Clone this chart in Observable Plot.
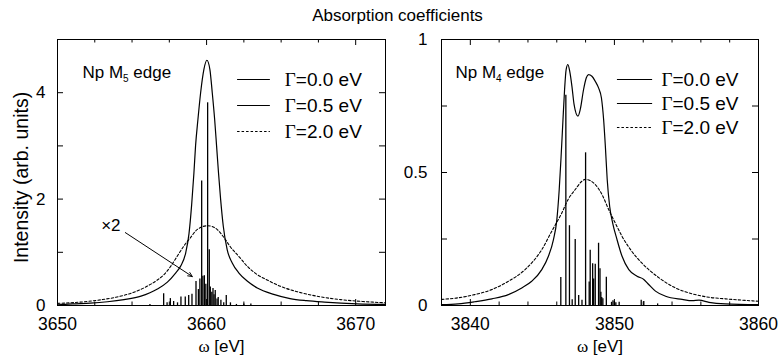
<!DOCTYPE html>
<html><head><meta charset="utf-8">
<script src="https://cdn.jsdelivr.net/npm/d3@7"></script>
<script src="https://cdn.jsdelivr.net/npm/@observablehq/plot@0.6"></script>
<style>
body{margin:0;background:#fff;}
#wrap{position:relative;width:781px;height:360px;display:flex;font-family:"Liberation Sans",Arial,sans-serif;background:#fff;}
#title{position:absolute;top:7px;left:0;width:795px;text-align:center;font-size:17px;line-height:18px;color:#000;z-index:2;}
svg{display:block;}
</style></head><body>
<div id="wrap"><div id="title">Absorption coefficients</div></div>
<script>
// ---------- Np M5 edge ----------
const m5G05E = [3650, 3651, 3652.2, 3653.35, 3654.46, 3655.6, 3656.2, 3656.7, 3657.37, 3657.92, 3658.26, 3658.6, 3658.82, 3659.0, 3659.15, 3659.26, 3659.42, 3659.6, 3659.82, 3660.02, 3660.22, 3660.38, 3660.54, 3660.67, 3660.8, 3660.94, 3661.12, 3661.38, 3661.72, 3662.17, 3662.72, 3663.4, 3664.5, 3665.6, 3666.7, 3667.9, 3670.1, 3672];
const m5G05V = [0.013, 0.03, 0.044, 0.07, 0.11, 0.175, 0.24, 0.31, 0.44, 0.61, 0.74, 0.99, 1.35, 1.9, 2.49, 3.0, 3.5, 4.0, 4.44, 4.61, 4.44, 4.0, 3.5, 3.0, 2.49, 2.0, 1.49, 1.05, 0.80, 0.61, 0.46, 0.33, 0.21, 0.13, 0.09, 0.063, 0.03, 0.02];
const m5G20E = [3650, 3651.8, 3652.9, 3654.0, 3655.13, 3656.0, 3656.7, 3657.14, 3657.6, 3658.04, 3658.48, 3658.93, 3659.38, 3660.09, 3660.7, 3661.16, 3661.6, 3662.17, 3662.72, 3663.4, 3664.06, 3664.96, 3666.07, 3667.4, 3669.0, 3670.5, 3672];
const m5G20V = [0.04, 0.07, 0.107, 0.16, 0.25, 0.36, 0.48, 0.58, 0.74, 0.93, 1.12, 1.28, 1.43, 1.50, 1.43, 1.28, 1.10, 0.92, 0.74, 0.58, 0.48, 0.36, 0.26, 0.175, 0.11, 0.075, 0.05];
const m5StickE = [3656.2, 3657.12, 3657.35, 3657.57, 3657.79, 3658.05, 3658.28, 3658.57, 3658.8, 3659.02, 3659.29, 3659.45, 3659.55, 3659.67, 3659.75, 3659.85, 3659.95, 3660.07, 3660.18, 3660.25, 3660.35, 3660.43, 3660.5, 3660.58, 3660.7, 3660.78, 3660.96, 3661.15, 3661.32, 3661.6, 3662.0, 3662.5, 3662.97];
const m5StickV = [0.02, 0.22, 0.05, 0.13, 0.075, 0.05, 0.16, 0.16, 0.19, 0.21, 0.45, 0.3, 0.5, 2.34, 0.55, 0.56, 0.4, 3.81, 1.05, 0.35, 0.25, 0.32, 0.2, 0.28, 0.12, 0.15, 0.1, 0.05, 0.19, 0.05, 0.02, 0.03, 0.03];

// ---------- Np M4 edge ----------
const m4G05E = [3838, 3839.16, 3840.3, 3841.5, 3842.64, 3843.57, 3844.26, 3844.96, 3845.42, 3845.77, 3846.0, 3846.17, 3846.3, 3846.42, 3846.54, 3846.65, 3846.77, 3846.9, 3847.05, 3847.2, 3847.47, 3847.63, 3847.86, 3848.05, 3848.2, 3848.44, 3848.67, 3848.9, 3849.1, 3849.25, 3849.37, 3849.5, 3849.67, 3849.88, 3850.18, 3850.53, 3851.0, 3851.57, 3852.04, 3852.38, 3852.85, 3853.55, 3854.7, 3855.4, 3855.87, 3856.56, 3857.7, 3860];
const m4G05V = [0.003, 0.006, 0.014, 0.025, 0.041, 0.066, 0.091, 0.135, 0.185, 0.248, 0.32, 0.436, 0.56, 0.687, 0.81, 0.887, 0.906, 0.88, 0.825, 0.756, 0.712, 0.737, 0.812, 0.856, 0.868, 0.862, 0.843, 0.818, 0.78, 0.70, 0.60, 0.474, 0.373, 0.31, 0.248, 0.185, 0.135, 0.11, 0.098, 0.079, 0.054, 0.035, 0.023, 0.018, 0.02, 0.012, 0.006, 0.003];
const m4G20E = [3838, 3839.16, 3840.3, 3841.5, 3842.64, 3843.8, 3844.96, 3845.66, 3846.35, 3846.8, 3847.28, 3847.74, 3847.98, 3848.3, 3848.67, 3849.14, 3849.6, 3850.06, 3850.53, 3851.2, 3851.9, 3853.1, 3854.24, 3855.4, 3856.56, 3857.7, 3860];
const m4G20V = [0.023, 0.029, 0.041, 0.06, 0.091, 0.135, 0.21, 0.28, 0.348, 0.40, 0.436, 0.467, 0.474, 0.47, 0.455, 0.417, 0.361, 0.31, 0.26, 0.204, 0.16, 0.104, 0.066, 0.044, 0.031, 0.025, 0.016];
const m4StickE = [3846.28, 3846.63, 3846.88, 3847.07, 3847.28, 3847.52, 3847.75, 3848.0, 3848.25, 3848.32, 3848.49, 3848.56, 3848.67, 3848.9, 3849.0, 3849.06, 3849.12, 3849.2, 3849.44, 3849.8, 3849.9, 3850.0, 3850.1, 3850.33, 3851.86, 3852.04, 3853.0];
const m4StickV = [0.105, 0.79, 0.30, 0.022, 0.248, 0.038, 0.02, 0.574, 0.088, 0.208, 0.157, 0.10, 0.155, 0.234, 0.138, 0.05, 0.03, 0.025, 0.106, 0.012, 0.018, 0.015, 0.01, 0.012, 0.02, 0.015, 0.006];

// ---------- ticks & labels ----------
const m5XMajor = [3650, 3660, 3670];
const m5XMinor = [3652.5, 3655, 3657.5, 3662.5, 3665, 3667.5];
const m5YTicks = [0, 1, 2, 3, 4, 5];
const m5YLabels = [0, 2, 4];
const m4XMajor = [3840, 3850, 3860];
const m4XMinor = [3842, 3844, 3846, 3848, 3852, 3854, 3856, 3858];
const m4YTicks = [0, 0.25, 0.5, 0.75, 1];
const m4YLabels = [0, 0.5, 1];
const legendLabels = ["Γ=0.0 eV", "Γ=0.5 eV", "Γ=2.0 eV"];
const edgeLabels = ["Np M5 edge", "Np M4 edge"];
const xLabel = "ω [eV]";
const yLabel = "Intensity (arb. units)";
const arrowNote = [{x1: 3654.55, y1: 1.37, x2: 3659.04, y2: 0.545}];
const arrowText = [{x: 3653.58, y: 1.51, t: "×2"}];

const rows = (E, V) => E.map((e, i) => ({e, v: V[i]}));

function panel(o) {
  const [x0, x1] = o.xDomain, [y0, y1] = o.yDomain;
  const fh = 360 - 39 - 55;
  const fw = o.width - o.marginLeft - o.marginRight;
  const fx = f => x0 + f * (x1 - x0);
  const fy = px => y1 - px / fh * (y1 - y0);
  const dyv = px => px / fh * (y1 - y0);   // pixel length -> y units
  const dxv = px => px / fw * (x1 - x0);   // pixel length -> x units
  const leg = legendLabels.map((t, i) => ({t, i, y: fy(o.legTop + i * o.legGap)}));
  const tk = {stroke: "black", strokeWidth: 1};
  const marks = [
    Plot.ruleX(rows(o.stickE, o.stickV), {x: "e", y1: 0, y2: "v", stroke: "black", strokeWidth: 1.3}),
    Plot.line(rows(o.solidE, o.solidV), {x: "e", y: "v", curve: "monotone-x", stroke: "black", strokeWidth: 1.2}),
    Plot.line(rows(o.dashE, o.dashV), {x: "e", y: "v", curve: "monotone-x", stroke: "black", strokeWidth: 1.1, strokeDasharray: "2.5,2"}),
    Plot.ruleY(leg.filter(d => d.i < 2), {y: "y", x1: fx(o.legX1), x2: fx(o.legX2), stroke: "black", strokeWidth: 1.2}),
    Plot.ruleY(leg.filter(d => d.i === 2), {y: "y", x1: fx(o.legX1), x2: fx(o.legX2), stroke: "black", strokeWidth: 1.1, strokeDasharray: "2.5,2"}),
    Plot.text(leg, {x: fx(o.legT), y: "y", text: "t", textAnchor: "start", fontSize: 19}),
    Plot.text([o.edge], {x: fx(o.edgeX), y: fy(o.edgeY), text: d => d, textAnchor: "start", fontSize: 17}),
    // inward ticks on all four sides
    Plot.ruleX(o.xMajor, {x: d => d, y1: y0, y2: y0 + dyv(6), ...tk}),
    Plot.ruleX(o.xMinor, {x: d => d, y1: y0, y2: y0 + dyv(3.5), ...tk}),
    Plot.ruleX(o.xMajor, {x: d => d, y1: y1, y2: y1 - dyv(6), ...tk}),
    Plot.ruleX(o.xMinor, {x: d => d, y1: y1, y2: y1 - dyv(3.5), ...tk}),
    Plot.ruleY(o.yTicks, {y: d => d, x1: x0, x2: x0 + dxv(6), ...tk}),
    Plot.ruleY(o.yTicks, {y: d => d, x1: x1, x2: x1 - dxv(6), ...tk}),
    Plot.frame({stroke: "black", strokeWidth: 1}),
    Plot.axisX({anchor: "bottom", ticks: o.xMajor, tickSize: 0, tickPadding: 12.5, fontSize: 17.5, label: null, tickFormat: d => String(d)}),
    Plot.axisY({anchor: "left", ticks: o.yLabels, tickSize: 0, tickPadding: o.yPad, fontSize: 17, label: null, tickFormat: d => String(d)}),
    Plot.text([xLabel], {frameAnchor: "bottom", dy: 46, text: d => d, fontSize: 17})
  ];
  if (o.extra) marks.push(...o.extra);
  return Plot.plot({
    width: o.width, height: 360,
    marginLeft: o.marginLeft, marginRight: o.marginRight, marginTop: 39, marginBottom: 55,
    x: {domain: o.xDomain}, y: {domain: o.yDomain},
    style: {fontFamily: "'Liberation Sans', Arial, sans-serif", fontSize: "18px", background: "white", color: "black"},
    marks
  });
}

const left = panel({
  width: 390, marginLeft: 57, marginRight: 5,
  xDomain: [3650, 3672], yDomain: [0, 5],
  solidE: m5G05E, solidV: m5G05V, dashE: m5G20E, dashV: m5G20V, stickE: m5StickE, stickV: m5StickV,
  xMajor: m5XMajor, xMinor: m5XMinor, yTicks: m5YTicks, yLabels: m5YLabels, yPad: 12,
  legX1: 0.549, legX2: 0.649, legT: 0.693, legTop: 40, legGap: 26,
  edge: edgeLabels[0], edgeX: 0.076, edgeY: 33,
  extra: [
    Plot.arrow(arrowNote, {x1: "x1", y1: "y1", x2: "x2", y2: "y2", stroke: "black", strokeWidth: 1, headLength: 7, headAngle: 50}),
    Plot.text(arrowText, {x: "x", y: "y", text: "t", fontSize: 17}),
    Plot.text([yLabel], {frameAnchor: "left", textAnchor: "middle", dx: -36, dy: 5, rotate: -90, text: d => d, fontSize: 19.5})
  ]
});
const right = panel({
  width: 391, marginLeft: 51, marginRight: 23,
  xDomain: [3838, 3860], yDomain: [0, 1],
  solidE: m4G05E, solidV: m4G05V, dashE: m4G20E, dashV: m4G20V, stickE: m4StickE, stickV: m4StickV,
  xMajor: m4XMajor, xMinor: m4XMinor, yTicks: m4YTicks, yLabels: m4YLabels, yPad: 14,
  legX1: 0.555, legX2: 0.666, legT: 0.694, legTop: 40, legGap: 24,
  edge: edgeLabels[1], edgeX: 0.044, edgeY: 33
});

const wrap = document.getElementById("wrap");
wrap.appendChild(left);
wrap.appendChild(right);

// rich-text touches: serif Greek letters and subscripts
const NS = "http://www.w3.org/2000/svg";
function ts(txt, attrs) {
  const t = document.createElementNS(NS, "tspan");
  t.textContent = txt;
  for (const k in attrs) t.setAttribute(k, attrs[k]);
  return t;
}
for (const svg of [left, right]) {
  for (const el of svg.querySelectorAll("text")) {
    const s = el.textContent;
    if (/^[Γω]/.test(s)) {
      el.textContent = "";
      el.appendChild(ts(s[0], {"font-family": "'Liberation Serif', 'Times New Roman', serif"}));
      el.appendChild(ts(s.slice(1), {}));
    } else {
      const m = s.match(/^Np M(\d) edge$/);
      if (m) {
        el.textContent = "";
        el.appendChild(ts("Np M", {}));
        el.appendChild(ts(m[1], {"font-size": "10px", dy: "4"}));
        el.appendChild(ts(" edge", {dy: "-4"}));
      }
    }
  }
}
</script>
</body></html>
